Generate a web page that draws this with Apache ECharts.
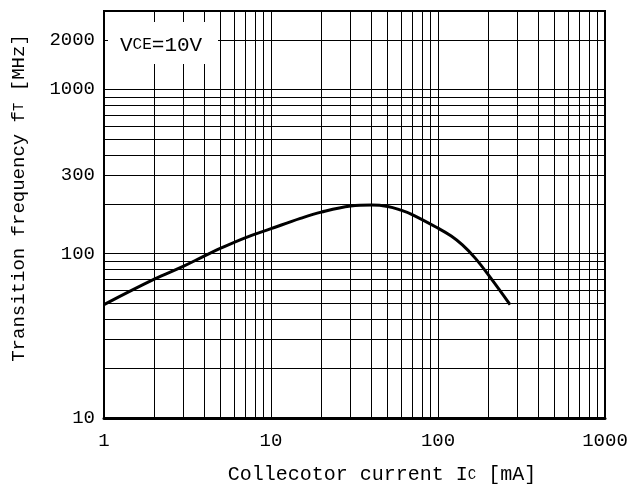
<!DOCTYPE html>
<html><head><meta charset="utf-8">
<script src="https://cdn.jsdelivr.net/npm/echarts@6/dist/echarts.min.js"></script>
<style>html,body{margin:0;padding:0;background:#fff}#c{width:635px;height:493px}</style>
</head><body><div id="c"></div>
<script>
const icValues = [1, 2, 3, 4, 5, 7, 10, 15, 20, 30, 40, 50, 60, 70, 100, 120, 140, 167, 205, 270];
const ftValues = [49, 70, 84, 97, 108, 125, 142, 164, 179, 195, 198, 194, 184, 173, 143, 128, 113, 94, 72, 49];
const xTickLabels = [1, 10, 100, 1000];
const yTickLabels = [10, 100, 300, 1000, 2000];
const xGridValues = [2,3,4,5,6,7,8,9,10,20,30,40,50,60,70,80,90,100,200,300,400,500,600,700,800,900];
const yGridValues = [20,30,40,50,60,70,80,90,100,200,300,400,500,600,700,800,900,1000,2000];

const FONT = '"Liberation Mono", "DejaVu Sans Mono", monospace';
const chart = echarts.init(document.getElementById('c'), null, {renderer: 'canvas'});
const gridLines = xGridValues.map(v => ({xAxis: v})).concat(yGridValues.map(v => ({yAxis: v})));

chart.setOption({
  animation: false,
  backgroundColor: '#fff',
  grid: {left: 104, right: 30, top: 11, bottom: 75, show: true, borderColor: '#000', borderWidth: 2, backgroundColor: 'transparent'},
  xAxis: {
    type: 'log', logBase: 10, min: 1, max: 1000,
    axisLine: {show: true, lineStyle: {color: '#000', width: 3}},
    axisTick: {show: false},
    splitLine: {show: false},
    minorSplitLine: {show: false},
    axisLabel: {customValues: xTickLabels, formatter: v => String(v), color: '#000', fontSize: 19, fontFamily: FONT, margin: 13}
  },
  yAxis: {
    type: 'log', logBase: 10, min: 10, max: 3000,
    axisLine: {show: true, lineStyle: {color: '#000', width: 2}},
    axisTick: {show: false},
    splitLine: {show: false},
    axisLabel: {customValues: yTickLabels, formatter: v => String(v), color: '#000', fontSize: 19, fontFamily: FONT, margin: 9}
  },
  series: [
    {
      type: 'line', data: [], z: 1, silent: true,
      markLine: {
        silent: true, symbol: ['none', 'none'], animation: false,
        label: {show: false},
        lineStyle: {color: '#000', width: 1, type: 'solid'},
        emphasis: {disabled: true},
        data: gridLines
      }
    },
    {
      type: 'line', z: 5, symbol: 'none', smooth: 0.4,
      lineStyle: {color: '#000', width: 3},
      data: icValues.map((v, i) => [v, ftValues[i]])
    }
  ],
  graphic: [
    {type: 'rect', z: 100, shape: {x: 108, y: 22, width: 110, height: 42}, style: {fill: '#fff'}},
    {type: 'text', z: 101, x: 120, y: 45, style: {
      text: 'V{s|CE}=10V', fill: '#000', font: '21px "Liberation Mono", monospace', verticalAlign: 'middle',
      rich: {s: {fontSize: 16, fontFamily: FONT, fill: '#000'}}
    }},
    {type: 'text', z: 101, x: 382, y: 475, style: {
      text: 'Collecotor current I{s|C} [mA]', fill: '#000', font: '20px "Liberation Mono", monospace', align: 'center', verticalAlign: 'middle',
      rich: {s: {fontSize: 14, fontFamily: FONT, fill: '#000'}}
    }},
    {type: 'text', z: 101, x: 19, y: 198, rotation: Math.PI / 2, style: {
      text: 'Transition frequency f{s|T} [MHz]', fill: '#000', font: '19px "Liberation Mono", monospace', align: 'center', verticalAlign: 'middle',
      rich: {s: {fontSize: 14, fontFamily: FONT, fill: '#000'}}
    }}
  ]
});
</script></body></html>
